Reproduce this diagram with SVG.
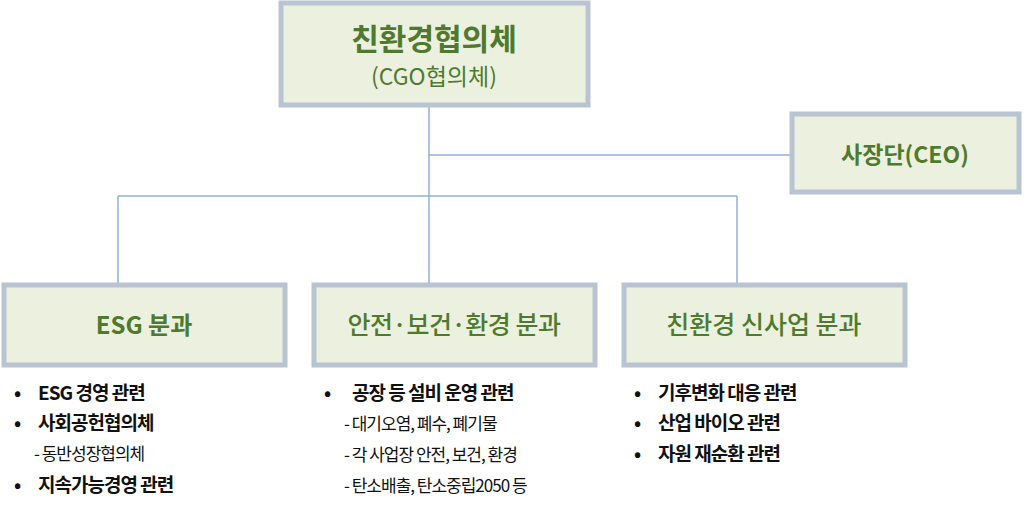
<svg xmlns="http://www.w3.org/2000/svg" width="1024" height="511" viewBox="0 0 1024 511">
<style>
.box{fill:#ebf1de;stroke:#b9c4d3;stroke-width:5}
.t{font-family:"Noto Sans CJK KR","Noto Sans",sans-serif;fill:#4f7a2e;text-anchor:middle}
.l{font-family:"Noto Sans CJK KR","Noto Sans",sans-serif;fill:#111;font-size:19px;letter-spacing:-1px}
.s{font-size:17px;font-weight:normal}
.b{font-weight:bold}
.m{font-weight:500}
#connectors line{stroke:#8fb0d6;stroke-width:1.5}
</style>
<rect width="1024" height="511" fill="#fff"/>
<g id="connectors">
<line x1="429" y1="106" x2="429" y2="283"/>
<line x1="429" y1="155" x2="790" y2="155"/>
<line x1="118" y1="196" x2="737" y2="196"/>
<line x1="118" y1="196" x2="118" y2="283"/>
<line x1="737" y1="196" x2="737" y2="283"/>
</g>
<g id="top"><rect class="box" x="281" y="3" width="307" height="102"/>
<text class="t b" x="434" y="50" font-size="30">친환경협의체</text>
<text class="t" x="434" y="85" font-size="23">(CGO협의체)</text></g>
<g id="ceo"><rect class="box" x="792" y="114" width="227" height="78"/>
<text class="t b" x="905" y="163" font-size="23">사장단(CEO)</text></g>
<g id="esg"><rect class="box" x="4" y="285" width="281" height="80"/>
<text class="t b" x="144" y="334" font-size="24">ESG 분과</text></g>
<g id="safety"><rect class="box" x="314" y="285" width="281" height="80"/>
<text class="t m" x="454" y="334" font-size="25" letter-spacing="-0.5">안전·보건·환경 분과</text></g>
<g id="eco"><rect class="box" x="624" y="285" width="281" height="80"/>
<text class="t m" x="764" y="334" font-size="25">친환경 신사업 분과</text></g>
<g id="esg-list">
<text class="l b" x="14" y="400">•</text><text class="l b" x="38" y="400">ESG 경영 관련</text>
<text class="l b" x="14" y="430">•</text><text class="l b" x="38" y="430">사회공헌협의체</text>
<text class="l s" x="34" y="460">- 동반성장협의체</text>
<text class="l b" x="14" y="492">•</text><text class="l b" x="38" y="492">지속가능경영 관련</text>
</g>
<g id="safety-list">
<text class="l b" x="324" y="400">•</text><text class="l b" x="352" y="400">공장 등 설비 운영 관련</text>
<text class="l s" x="344" y="430">- 대기오염, 폐수, 폐기물</text>
<text class="l s" x="344" y="461">- 각 사업장 안전, 보건, 환경</text>
<text class="l s" x="344" y="492">- 탄소배출, 탄소중립2050 등</text>
</g>
<g id="eco-list">
<text class="l b" x="634" y="400">•</text><text class="l b" x="658" y="400">기후변화 대응 관련</text>
<text class="l b" x="634" y="430">•</text><text class="l b" x="658" y="430">산업 바이오 관련</text>
<text class="l b" x="634" y="461">•</text><text class="l b" x="658" y="461">자원 재순환 관련</text>
</g>
</svg>
